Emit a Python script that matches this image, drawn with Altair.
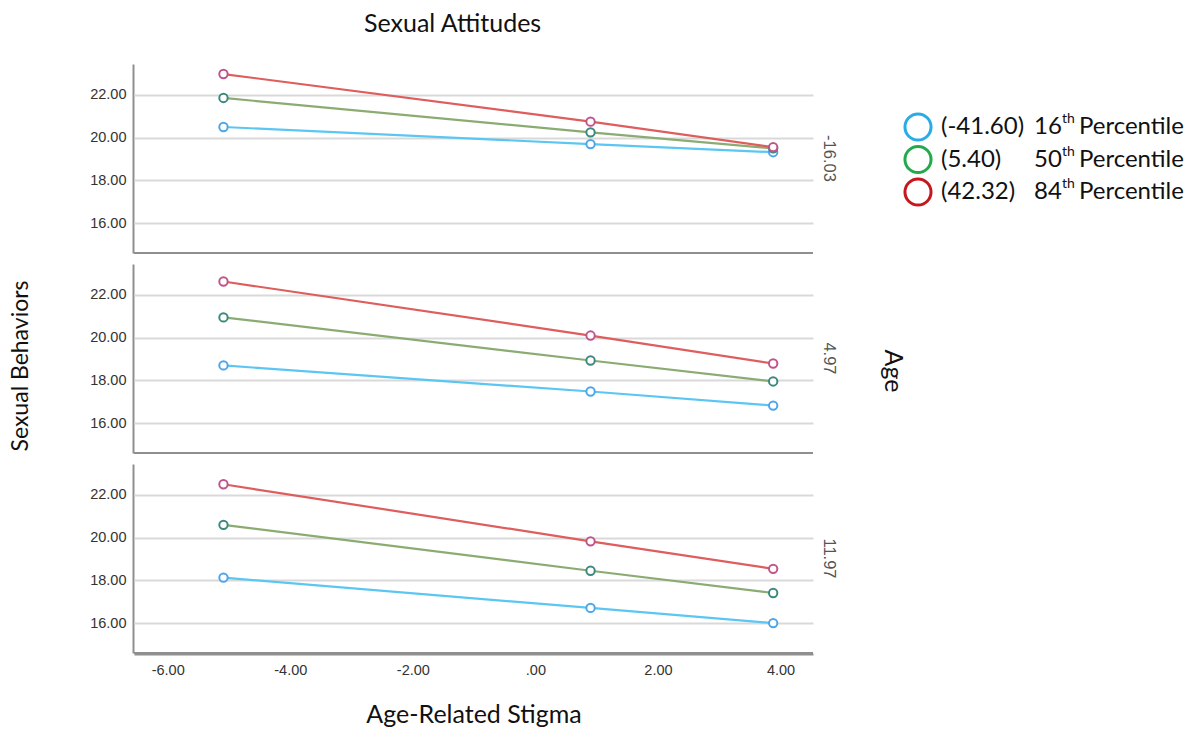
import altair as alt
import pandas as pd

# ---------------- data ----------------
stigma_x = [-5.09, 0.90, 3.88]
age_levels = ["-16.03", "4.97", "11.97"]
group_keys = ["p16", "p50", "p84"]
legend_values = ["(-41.60)", "(5.40)", "(42.32)"]
legend_pcts = ["16", "50", "84"]

age_m16_p16 = [20.50, 19.70, 19.32]
age_m16_p50 = [21.86, 20.25, 19.50]
age_m16_p84 = [22.98, 20.75, 19.56]

age_497_p16 = [18.70, 17.48, 16.82]
age_497_p50 = [20.95, 18.93, 17.95]
age_497_p84 = [22.63, 20.10, 18.79]

age_1197_p16 = [18.13, 16.71, 16.00]
age_1197_p50 = [20.60, 18.45, 17.41]
age_1197_p84 = [22.50, 19.83, 18.54]

x_ticks = [-6, -4, -2, 0, 2, 4]
y_ticks = [16, 18, 20, 22]

line_colors = ["#5cc6f2", "#8aab72", "#de5d5d"]
point_colors = ["#4ea6ea", "#3b8a7c", "#c0558a"]
legend_colors = ["#29ace6", "#22aa4c", "#c4181e"]

series = {
    "-16.03": [age_m16_p16, age_m16_p50, age_m16_p84],
    "4.97": [age_497_p16, age_497_p50, age_497_p84],
    "11.97": [age_1197_p16, age_1197_p50, age_1197_p84],
}

rows = []
for age in age_levels:
    for gk, vals in zip(group_keys, series[age]):
        for xv, yv in zip(stigma_x, vals):
            rows.append({"age": age, "group": gk, "stigma": xv, "behav": yv})
df = pd.DataFrame(rows)

TITLE_FONT = "Lato"
TICK_FONT = "Liberation Sans"
Y_MIN, Y_MAX = 14.6, 23.45
PANEL_W, PANEL_H, GAP = 679, 189, 10
TOTAL_H = 3 * PANEL_H + 2 * GAP

x_enc = alt.X(
    "stigma:Q",
    scale=alt.Scale(domain=[-6.55, 4.53], nice=False, zero=False),
    axis=alt.Axis(
        values=x_ticks,
        labelExpr="datum.value == 0 ? '.00' : (datum.value < 0 ? '-' + format(-datum.value, '.2f') : format(datum.value, '.2f'))",
        title="Age-Related Stigma",
        grid=False,
    ),
)
y_enc = alt.Y(
    "behav:Q",
    scale=alt.Scale(domain=[Y_MIN, Y_MAX], nice=False, zero=False),
    axis=alt.Axis(values=y_ticks, format=".2f", title=None, grid=True),
)

lines = alt.Chart().mark_line(strokeWidth=2.2).encode(
    x=x_enc,
    y=y_enc,
    color=alt.Color("group:N", scale=alt.Scale(domain=group_keys, range=line_colors), legend=None),
)
points = alt.Chart().mark_point(
    shape="circle", filled=False, fill="white", fillOpacity=1, opacity=1, size=70, strokeWidth=2
).encode(
    x=x_enc,
    y=y_enc,
    stroke=alt.Stroke("group:N", scale=alt.Scale(domain=group_keys, range=point_colors), legend=None),
)
bottom_rule = alt.Chart().mark_rule(color="#8f8f8f", strokeWidth=2).encode(
    y=alt.datum(Y_MIN)
).transform_filter(
    (alt.datum.group == group_keys[0]) & (alt.datum.stigma == stigma_x[0])
)

panel = alt.layer(lines, bottom_rule, points, data=df).properties(width=PANEL_W, height=PANEL_H)

facet = panel.facet(
    row=alt.Row(
        "age:N",
        sort=age_levels,
        title=None,
        header=alt.Header(
            labelOrient="right",
            labelAngle=90,
            labelFont=TICK_FONT,
            labelFontSize=16.5,
            labelColor="#555555",
            labelPadding=6,
        ),
    ),
    spacing=GAP,
)

# left title for the shared y axis
ytitle = alt.Chart(pd.DataFrame({"t": ["Sexual Behaviors"]})).mark_text(
    angle=270, font=TITLE_FONT, fontSize=23, color="#111111"
).encode(
    text="t:N", x=alt.value(13), y=alt.value(302)
).properties(width=81, height=TOTAL_H)

# right side: facet title "Age" + custom legend
age_title = alt.Chart(pd.DataFrame({"t": ["Age"]})).mark_text(
    angle=90, font=TITLE_FONT, fontSize=25, color="#111111"
).encode(text="t:N", x=alt.value(56), y=alt.value(307))

leg_df = pd.DataFrame({
    "idx": [0, 1, 2],
    "lgroup": group_keys,
    "val": legend_values,
    "pct": legend_pcts,
    "sup": ["th", "th", "th"],
    "word": ["Percentile"] * 3,
})
leg_y = alt.Y("idx:Q", scale=alt.Scale(domain=[0, 2], range=[63, 128]), axis=None)
leg_base = alt.Chart(leg_df).encode(y=leg_y)
leg_circles = leg_base.mark_point(shape="circle", filled=False, size=680, strokeWidth=3, opacity=1).encode(
    x=alt.value(81),
    stroke=alt.Stroke("lgroup:N", scale=alt.Scale(domain=group_keys, range=legend_colors), legend=None),
)
txt = dict(align="left", baseline="middle", font=TITLE_FONT, color="#111111")
leg_val = leg_base.mark_text(fontSize=24, **txt).encode(x=alt.value(104), text="val:N")
leg_pct = leg_base.mark_text(fontSize=24, **txt).encode(x=alt.value(197), text="pct:N")
leg_sup = leg_base.mark_text(fontSize=14, dy=-8, **txt).encode(x=alt.value(225), text="sup:N")
leg_word = leg_base.mark_text(fontSize=24, **txt).encode(x=alt.value(242), text="word:N")

right_side = alt.layer(age_title, leg_circles, leg_val, leg_pct, leg_sup, leg_word).properties(
    width=345, height=TOTAL_H
)

chart = alt.hconcat(ytitle, facet, right_side, spacing=0).resolve_scale(
    stroke="independent", color="independent"
).properties(
    title=alt.TitleParams(
        "Sexual Attitudes",
        anchor="start",
        frame="bounds",
        dx=356,
        font=TITLE_FONT,
        fontSize=25,
        fontWeight="normal",
        color="#111111",
        offset=27,
    ),
    padding={"left": 0, "top": 4, "right": 0, "bottom": 0},
).configure_view(
    stroke=None
).configure_axis(
    domainColor="#8f8f8f",
    domainWidth=2,
    ticks=False,
    tickSize=0,
    labelFont=TICK_FONT,
    labelFontSize=14.5,
    labelColor="#333333",
    labelPadding=7,
    gridColor="#d9d9d9",
    gridWidth=2,
    titleFont=TITLE_FONT,
    titleFontSize=25,
    titleFontWeight="normal",
    titleColor="#111111",
).configure_axisX(
    labelPadding=9,
    titlePadding=26,
)

chart.save("out.html", embed_options={"renderer": "svg", "actions": False})
